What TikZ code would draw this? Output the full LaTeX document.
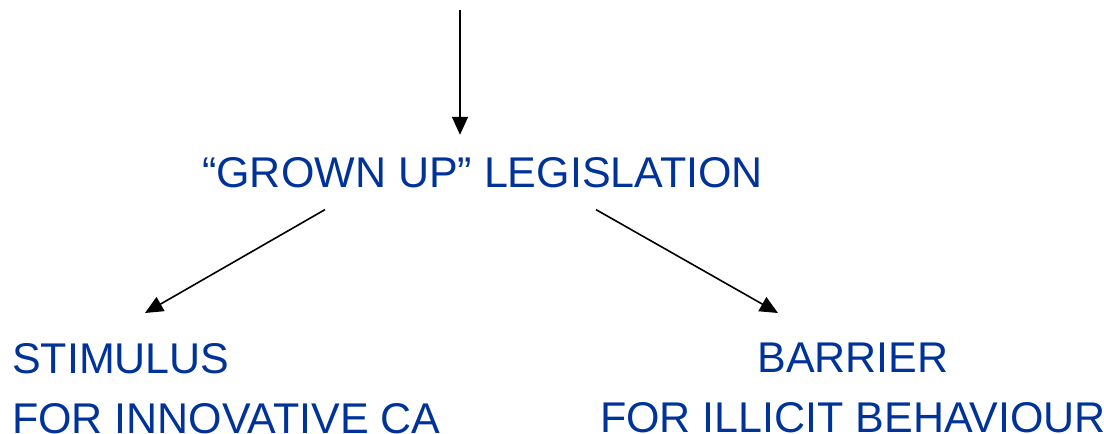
\documentclass[tikz,border=0pt]{standalone}
\usepackage{fontspec}
\setmainfont{Liberation Sans}
\usepackage{tikz}
\usetikzlibrary{arrows.meta,positioning}
\definecolor{LegisBlue}{HTML}{003399}

\begin{document}
\begin{tikzpicture}[x=1pt,y=-1pt,font=\fontsize{43}{60}\selectfont,
    lbl/.style={text=LegisBlue,inner sep=0pt},
    arr/.style={-{Triangle[length=18pt,width=16pt]},line width=1.6pt,black}]
      \useasboundingbox (0,0) rectangle (1104,434);
      \coordinate (top) at (460,10);
      \node[lbl,inner ysep=22pt,anchor=base west] (leg) at (202,187) {``GROWN UP'' LEGISLATION};
      \node[lbl,align=left,anchor=north west] (stim) at (12,343) {STIMULUS\\FOR INNOVATIVE CA};
      \node[lbl,align=center,anchor=north] (barr) at (853,343) {BARRIER\\FOR ILLICIT BEHAVIOUR};
      \draw[arr] (top) -- (top |- leg.north);
      \draw[arr] ([xshift=123pt]leg.south west) -- ([xshift=133pt,yshift=30pt]stim.north west);
      \draw[arr] ([xshift=394pt]leg.south west) -- ([xshift=-75pt,yshift=30pt]barr.north);
    \end{tikzpicture}
\end{document}
